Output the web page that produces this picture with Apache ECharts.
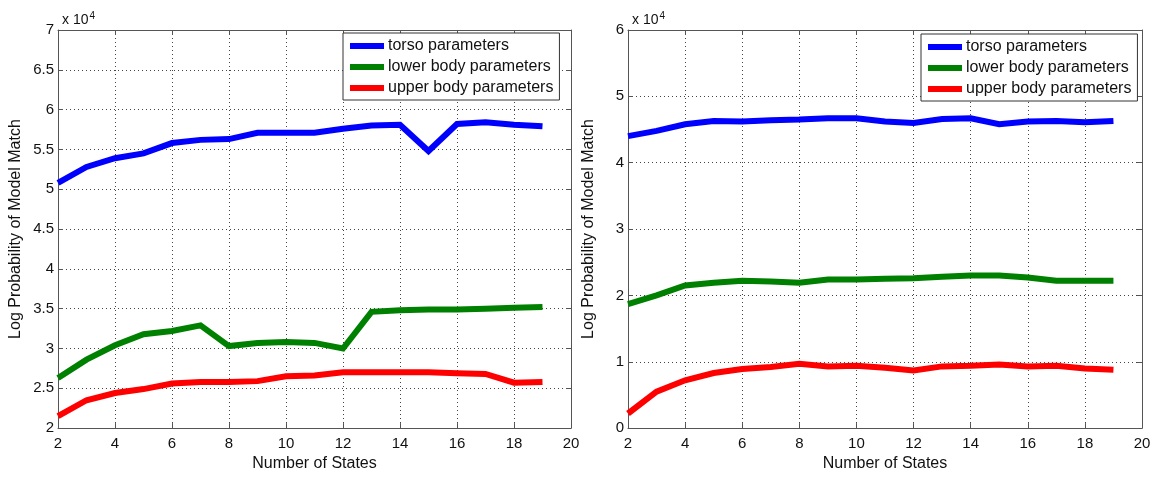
<!DOCTYPE html>
<html>
<head>
<meta charset="utf-8">
<script src="https://cdn.jsdelivr.net/npm/echarts@6/dist/echarts.min.js"></script>
<style>html,body{margin:0;padding:0;background:#fff}#c{width:1155px;height:477px}</style>
</head>
<body>
<div id="c"></div>
<script>
// x values: number of states
const states = [2,3,4,5,6,7,8,9,10,11,12,13,14,15,16,17,18,19];
const seriesNames = ['torso parameters','lower body parameters','upper body parameters'];
// values in units of 10^4
// Left chart
const leftTorso = [5.08,5.28,5.39,5.45,5.58,5.62,5.63,5.71,5.71,5.71,5.76,5.80,5.81,5.48,5.82,5.84,5.81,5.79];
const leftLower = [2.63,2.86,3.04,3.18,3.22,3.29,3.03,3.07,3.08,3.07,3.00,3.46,3.48,3.49,3.49,3.50,3.51,3.52];
const leftUpper = [2.15,2.35,2.44,2.49,2.56,2.58,2.58,2.59,2.65,2.66,2.70,2.70,2.70,2.70,2.69,2.68,2.57,2.58];
// Right chart
const rightTorso = [4.40,4.48,4.58,4.63,4.62,4.64,4.65,4.67,4.67,4.62,4.60,4.66,4.67,4.58,4.62,4.63,4.61,4.63];
const rightLower = [1.87,2.00,2.15,2.19,2.22,2.21,2.19,2.24,2.24,2.25,2.26,2.28,2.30,2.30,2.27,2.22,2.22,2.22];
const rightUpper = [0.22,0.55,0.72,0.83,0.89,0.92,0.97,0.93,0.94,0.91,0.87,0.93,0.94,0.96,0.93,0.94,0.90,0.88];
// axis ranges / tick labels
const xTicks = [2,4,6,8,10,12,14,16,18,20];
const leftYTicks = [2,2.5,3,3.5,4,4.5,5,5.5,6,6.5,7];
const rightYTicks = [0,1,2,3,4,5,6];
const xLabel = 'Number of States';
const yLabel = 'Log Probability of Model Match';
const multiplier = ['x 10','4'];

const colors = ['#0000ff','#008000','#ff0000'];
const FONT = 'Liberation Sans, Arial, sans-serif';
const axisCol = '#555';

function pair(arr){ return states.map((s,i)=>[s,arr[i]]); }

const grids = [
  {left:58, right:584, top:30, bottom:43},
  {left:628, right:13, top:30, bottom:43}
];
const yTickSets = [leftYTicks, rightYTicks];

const xAxes = [], yAxes = [];
grids.forEach((g,gi)=>{
  xAxes.push({
    type:'value', gridIndex:gi, min:xTicks[0], max:xTicks[xTicks.length-1], interval:xTicks[1]-xTicks[0],
    position:'bottom',
    name:xLabel, nameLocation:'middle', nameGap:25,
    nameTextStyle:{fontFamily:FONT, fontSize:16, color:'#111'},
    axisLine:{onZero:false, lineStyle:{color:axisCol, width:1}},
    axisTick:{inside:true, length:5, lineStyle:{color:axisCol}},
    axisLabel:{fontFamily:FONT, fontSize:15, color:'#111', margin:8},
    splitLine:{show:true, lineStyle:{type:[1,3], color:'#444', width:1}}
  });
  xAxes.push({
    type:'value', gridIndex:gi, min:xTicks[0], max:xTicks[xTicks.length-1], interval:xTicks[1]-xTicks[0],
    position:'top',
    axisLine:{onZero:false, lineStyle:{color:axisCol, width:1}},
    axisTick:{inside:true, length:5, lineStyle:{color:axisCol}},
    axisLabel:{show:false}, splitLine:{show:false}
  });
  const yt = yTickSets[gi];
  yAxes.push({
    type:'value', gridIndex:gi, min:yt[0], max:yt[yt.length-1], interval:yt[1]-yt[0],
    position:'left',
    name:yLabel, nameLocation:'middle', nameGap: gi===0?34:31,
    nameTextStyle:{fontFamily:FONT, fontSize:16, color:'#111'},
    axisLine:{show:true, onZero:false, lineStyle:{color:axisCol, width:1}},
    axisTick:{show:true, inside:true, length:5, lineStyle:{color:axisCol}},
    axisLabel:{fontFamily:FONT, fontSize:15, color:'#111', margin:4, formatter:v=>String(v)},
    splitLine:{show:true, lineStyle:{type:[1,3], color:'#444', width:1}}
  });
  yAxes.push({
    type:'value', gridIndex:gi, min:yt[0], max:yt[yt.length-1], interval:yt[1]-yt[0],
    position:'right',
    axisLine:{show:true, onZero:false, lineStyle:{color:axisCol, width:1}},
    axisTick:{show:true, inside:true, length:5, lineStyle:{color:axisCol}},
    axisLabel:{show:false}, splitLine:{show:false}
  });
});

const dataSets = [[leftTorso,leftLower,leftUpper],[rightTorso,rightLower,rightUpper]];
const series = [];
dataSets.forEach((set,gi)=>{
  set.forEach((arr,si)=>{
    series.push({
      type:'line', name:seriesNames[si], xAxisIndex:gi*2, yAxisIndex:gi*2,
      data:pair(arr), showSymbol:false, symbol:'none',
      lineStyle:{color:colors[si], width:6, cap:'butt', join:'miter'},
      itemStyle:{color:colors[si]}, z:3
    });
  });
});

const legendCommon = {
  orient:'vertical', data:seriesNames, icon:'rect', itemWidth:34, itemHeight:6, itemGap:5,
  backgroundColor:'#fff', borderColor:'#333', borderWidth:1, padding:[5,6,4,7],
  textStyle:{fontFamily:FONT, fontSize:16, color:'#111', padding:[0,0,0,-1]},
  selectedMode:false, z:10
};

const titleRich = {
  a:{fontFamily:FONT, fontSize:14, fontWeight:'normal', color:'#111'},
  b:{fontFamily:FONT, fontSize:10, fontWeight:'normal', color:'#111', verticalAlign:'top', padding:[0,0,8,1]}
};

const option = {
  backgroundColor:'#fff',
  animation:false,
  title:[
    {left:57, top:6, text:'{a|'+multiplier[0]+'}{b|'+multiplier[1]+'}', textStyle:{fontWeight:'normal', rich:titleRich}},
    {left:627, top:6, text:'{a|'+multiplier[0]+'}{b|'+multiplier[1]+'}', textStyle:{fontWeight:'normal', rich:titleRich}}
  ],
  grid:grids,
  xAxis:xAxes,
  yAxis:yAxes,
  legend:[
    Object.assign({left:343, top:33}, legendCommon),
    Object.assign({left:921, top:34}, legendCommon)
  ],
  series:series
};
const chart = echarts.init(document.getElementById('c'), null, {renderer:'canvas'});
chart.setOption(option);
</script>
</body>
</html>
